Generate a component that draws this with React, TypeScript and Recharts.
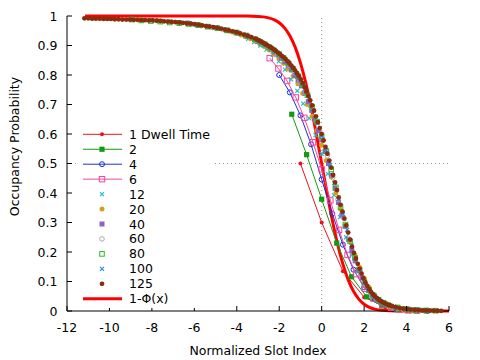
import React from "react";
import {
  ComposedChart,
  Scatter,
  Line,
  XAxis,
  YAxis,
  ReferenceLine,
  Legend,
} from "recharts";

type Pt = [number, number];

// x: normalized slot index, y: occupancy probability
const dwell1: Pt[] = [[-1, 0.5], [0, 0.3], [1, 0.135], [2, 0.047], [3, 0.013], [4, 0.003], [5, 0.0006]];

const dwell2: Pt[] = [
  [-1.41, 0.667], [-0.71, 0.53], [0, 0.379], [0.71, 0.23], [1.41, 0.116], [2.12, 0.048],
  [2.83, 0.017], [3.54, 0.005], [4.24, 0.0015], [4.95, 0.0004],
];

const dwell4: Pt[] = [
  [-2, 0.8], [-1.5, 0.741], [-1, 0.663], [-0.5, 0.565], [0, 0.446], [0.5, 0.33], [1, 0.225],
  [1.5, 0.14], [2, 0.08], [2.5, 0.042], [3, 0.02], [3.5, 0.009], [4, 0.004], [4.5, 0.0015], [5, 0.0006],
];

const dwell6: Pt[] = [
  [-2.45, 0.857], [-2.04, 0.822], [-1.63, 0.78], [-1.22, 0.724], [-0.82, 0.655], [-0.41, 0.572],
  [0, 0.48], [0.41, 0.375], [0.82, 0.275], [1.22, 0.19], [1.63, 0.125], [2.04, 0.075], [2.45, 0.042],
  [2.86, 0.022], [3.27, 0.011], [3.67, 0.005], [4.08, 0.002], [4.49, 0.001],
];

const dwell12: Pt[] = [
  [-3.46, 0.923], [-3.18, 0.912], [-2.89, 0.9], [-2.6, 0.886], [-2.31, 0.868], [-2.02, 0.846],
  [-1.73, 0.818], [-1.44, 0.785], [-1.15, 0.746], [-0.87, 0.703], [-0.58, 0.653], [-0.29, 0.596],
  [0, 0.533], [0.29, 0.465], [0.58, 0.393], [0.87, 0.318], [1.15, 0.25], [1.44, 0.19], [1.73, 0.135],
  [2.02, 0.093], [2.31, 0.062], [2.6, 0.04], [2.89, 0.026], [3.18, 0.016], [3.46, 0.01], [3.75, 0.006],
  [4.04, 0.0035], [4.33, 0.002],
];

const dwell20: Pt[] = [
  [-4.47, 0.952], [-4.25, 0.947], [-4.02, 0.942], [-3.8, 0.936], [-3.58, 0.93], [-3.35, 0.923],
  [-3.13, 0.915], [-2.91, 0.906], [-2.68, 0.896], [-2.46, 0.885], [-2.24, 0.872], [-2.01, 0.857],
  [-1.79, 0.84], [-1.57, 0.82], [-1.34, 0.797], [-1.12, 0.77], [-0.89, 0.738], [-0.67, 0.7],
  [-0.45, 0.66], [-0.22, 0.613], [0, 0.562], [0.22, 0.51], [0.45, 0.455], [0.67, 0.4], [0.89, 0.345],
  [1.12, 0.29], [1.34, 0.238], [1.57, 0.19], [1.79, 0.148], [2.01, 0.11], [2.24, 0.08], [2.46, 0.057],
  [2.68, 0.04], [2.91, 0.028], [3.13, 0.019], [3.35, 0.013], [3.58, 0.009], [3.8, 0.006], [4.02, 0.004],
  [4.25, 0.0027], [4.47, 0.0018],
];

const dwell40: Pt[] = [
  [-6.32, 0.976], [-5.85, 0.97], [-5.38, 0.964], [-4.9, 0.958], [-4.43, 0.95], [-3.95, 0.942],
  [-3.48, 0.931], [-3.16, 0.92], [-3.0, 0.914], [-2.85, 0.908], [-2.69, 0.902], [-2.53, 0.895],
  [-2.37, 0.887], [-2.21, 0.878], [-2.06, 0.868], [-1.9, 0.857], [-1.74, 0.845], [-1.58, 0.832],
  [-1.42, 0.817], [-1.26, 0.798], [-1.11, 0.783], [-0.95, 0.763], [-0.79, 0.738], [-0.63, 0.71],
  [-0.47, 0.68], [-0.32, 0.651], [-0.16, 0.611], [0, 0.58], [0.16, 0.541], [0.32, 0.5], [0.47, 0.46],
  [0.63, 0.416], [0.79, 0.368], [0.95, 0.325], [1.11, 0.287], [1.26, 0.243], [1.42, 0.205], [1.58, 0.17],
  [1.74, 0.14], [1.9, 0.113], [2.06, 0.088], [2.21, 0.07], [2.37, 0.054], [2.53, 0.043], [2.69, 0.034],
  [2.85, 0.028], [3.0, 0.022], [3.16, 0.018], [3.48, 0.012], [3.95, 0.007], [4.43, 0.004], [4.9, 0.002],
];

const dwell60: Pt[] = [
  [-7.75, 0.984], [-7.23, 0.98], [-6.71, 0.976], [-6.2, 0.972], [-5.68, 0.967], [-5.16, 0.961],
  [-4.65, 0.954], [-4.13, 0.945], [-3.61, 0.934], [-3.1, 0.919], [-2.84, 0.91], [-2.58, 0.898],
  [-2.32, 0.886], [-2.07, 0.871], [-1.81, 0.854], [-1.55, 0.833], [-1.29, 0.808], [-1.03, 0.777],
  [-0.77, 0.74], [-0.52, 0.694], [-0.26, 0.641], [0, 0.586], [0.26, 0.526], [0.52, 0.452], [0.77, 0.378],
  [1.03, 0.317], [1.29, 0.243], [1.55, 0.178], [1.81, 0.132], [2.07, 0.09], [2.32, 0.062], [2.58, 0.043],
  [2.84, 0.031], [3.1, 0.022], [3.61, 0.011], [4.13, 0.006], [4.65, 0.003], [5.16, 0.0015],
];

const dwell80: Pt[] = [
  [-8.94, 0.988], [-8.5, 0.985], [-8.05, 0.983], [-7.6, 0.981], [-7.16, 0.978], [-6.71, 0.976],
  [-6.26, 0.973], [-5.81, 0.969], [-5.37, 0.964], [-4.92, 0.959], [-4.47, 0.952], [-4.02, 0.944],
  [-3.58, 0.934], [-3.13, 0.921], [-2.91, 0.913], [-2.68, 0.904], [-2.46, 0.894], [-2.24, 0.883],
  [-2.01, 0.871], [-1.79, 0.857], [-1.57, 0.84], [-1.34, 0.82], [-1.12, 0.796], [-0.89, 0.766],
  [-0.67, 0.732], [-0.45, 0.692], [-0.22, 0.642], [0, 0.592], [0.22, 0.542], [0.45, 0.48], [0.67, 0.419],
  [0.89, 0.352], [1.12, 0.293], [1.34, 0.236], [1.57, 0.18], [1.79, 0.138], [2.01, 0.098], [2.24, 0.07],
  [2.46, 0.051], [2.68, 0.038], [2.91, 0.028], [3.13, 0.02], [3.58, 0.012], [4.02, 0.006], [4.47, 0.003],
  [4.92, 0.0017], [5.37, 0.001],
];

const dwell100: Pt[] = [
  [-10, 0.99], [-9, 0.988], [-8, 0.985], [-7, 0.98], [-6, 0.972], [-5, 0.961], [-4, 0.944], [-3.5, 0.932],
  [-3.0, 0.918], [-2.8, 0.91], [-2.6, 0.901], [-2.4, 0.892], [-2.2, 0.882], [-2.0, 0.871], [-1.8, 0.857],
  [-1.6, 0.843], [-1.4, 0.826], [-1.2, 0.806], [-1.0, 0.78], [-0.8, 0.752], [-0.6, 0.719], [-0.4, 0.68],
  [-0.2, 0.636], [0, 0.594], [0.2, 0.545], [0.4, 0.495], [0.6, 0.434], [0.8, 0.38], [1.0, 0.328],
  [1.2, 0.275], [1.4, 0.222], [1.6, 0.176], [1.8, 0.137], [2.0, 0.098], [2.2, 0.072], [2.4, 0.054],
  [2.6, 0.042], [2.8, 0.032], [3.0, 0.025], [3.4, 0.015], [3.8, 0.008], [4.2, 0.005], [4.6, 0.003],
  [5.0, 0.0016], [5.4, 0.0008],
];

const dwell125: Pt[] = [
  [-11.18, 0.992], [-11.0, 0.992], [-10.82, 0.991], [-10.64, 0.991], [-10.46, 0.991], [-10.28, 0.99],
  [-10.11, 0.99], [-9.93, 0.99], [-9.75, 0.989], [-9.57, 0.989], [-9.39, 0.988], [-9.21, 0.988],
  [-9.03, 0.988], [-8.85, 0.987], [-8.68, 0.987], [-8.5, 0.986], [-8.32, 0.986], [-8.14, 0.985],
  [-7.96, 0.985], [-7.78, 0.984], [-7.6, 0.983], [-7.42, 0.982], [-7.24, 0.981], [-7.07, 0.98],
  [-6.89, 0.979], [-6.71, 0.978], [-6.53, 0.977], [-6.35, 0.975], [-6.17, 0.974], [-5.99, 0.972],
  [-5.81, 0.97], [-5.63, 0.968], [-5.45, 0.966], [-5.28, 0.964], [-5.1, 0.962], [-4.92, 0.96],
  [-4.74, 0.957], [-4.56, 0.954], [-4.38, 0.951], [-4.2, 0.948], [-4.02, 0.945], [-3.84, 0.941],
  [-3.66, 0.937], [-3.49, 0.933], [-3.31, 0.928], [-3.13, 0.923],
  [-3.04, 0.92], [-2.95, 0.917], [-2.86, 0.913], [-2.77, 0.91], [-2.68, 0.906], [-2.59, 0.902],
  [-2.5, 0.898], [-2.41, 0.894], [-2.32, 0.89], [-2.24, 0.886], [-2.15, 0.881], [-2.06, 0.876],
  [-1.97, 0.871], [-1.88, 0.865], [-1.79, 0.86], [-1.7, 0.854], [-1.61, 0.847], [-1.52, 0.84],
  [-1.43, 0.832], [-1.34, 0.824], [-1.25, 0.815], [-1.16, 0.806], [-1.07, 0.796], [-0.98, 0.785],
  [-0.89, 0.772], [-0.8, 0.758], [-0.72, 0.744], [-0.63, 0.729], [-0.54, 0.714], [-0.45, 0.697],
  [-0.36, 0.679], [-0.27, 0.66], [-0.18, 0.64], [-0.09, 0.62], [0, 0.6], [0.09, 0.578], [0.18, 0.556],
  [0.27, 0.533], [0.36, 0.51], [0.45, 0.486], [0.54, 0.461], [0.63, 0.436], [0.72, 0.41], [0.8, 0.385],
  [0.89, 0.36], [0.98, 0.337], [1.07, 0.313], [1.16, 0.29], [1.25, 0.266], [1.34, 0.242], [1.43, 0.218],
  [1.52, 0.197], [1.61, 0.178], [1.7, 0.16], [1.79, 0.143], [1.88, 0.127], [1.97, 0.111], [2.06, 0.097],
  [2.15, 0.085], [2.24, 0.074], [2.32, 0.065], [2.41, 0.057], [2.5, 0.05], [2.59, 0.044], [2.68, 0.039],
  [2.77, 0.034], [2.86, 0.03], [2.95, 0.027], [3.04, 0.024], [3.13, 0.021], [3.22, 0.019], [3.31, 0.017],
  [3.49, 0.013], [3.67, 0.01], [3.85, 0.008], [4.03, 0.006], [4.2, 0.005], [4.38, 0.004], [4.56, 0.003],
  [4.74, 0.002], [4.92, 0.0017], [5.1, 0.0013], [5.28, 0.001], [5.46, 0.0007], [5.63, 0.0005],
];

// 1 - Phi(x), the normal reference curve
const normalTail: Pt[] = [
  [-11.15, 1], [-4, 1], [-3.5, 0.9998], [-3, 0.9987], [-2.75, 0.997], [-2.5, 0.9938], [-2.25, 0.9878],
  [-2, 0.9772], [-1.75, 0.9599], [-1.5, 0.9332], [-1.25, 0.8944], [-1, 0.8413], [-0.75, 0.7734],
  [-0.5, 0.6915], [-0.25, 0.5987], [0, 0.5], [0.25, 0.4013], [0.5, 0.3085], [0.75, 0.2266], [1, 0.1587],
  [1.25, 0.1056], [1.5, 0.0668], [1.75, 0.0401], [2, 0.0228], [2.25, 0.0122], [2.5, 0.0062],
  [2.75, 0.003], [3, 0.0013], [3.5, 0.0002], [4, 0], [6, 0],
];

const xTicks = [-12, -10, -8, -6, -4, -2, 0, 2, 4, 6];
const yTicks = [0, 0.1, 0.2, 0.3, 0.4, 0.5, 0.6, 0.7, 0.8, 0.9, 1];
const yTickLabels = ["0", "0.1", "0.2", "0.3", "0.4", "0.5", "0.6", "0.7", "0.8", "0.9", "1"];

const FONT = '"DejaVu Sans", Verdana, sans-serif';
const FS = 12.5;

type Kind = "dot" | "square" | "ocircle" | "osquare" | "cross";

const series: { name: string; data: Pt[]; color: string; kind: Kind; size: number; line?: boolean }[] = [
  { name: "1 Dwell Time", data: dwell1, color: "#e8141c", kind: "dot", size: 2, line: true },
  { name: "2", data: dwell2, color: "#139a13", kind: "square", size: 2.6, line: true },
  { name: "4", data: dwell4, color: "#1f2fd8", kind: "ocircle", size: 2.5, line: true },
  { name: "6", data: dwell6, color: "#f2469e", kind: "osquare", size: 2.7, line: true },
  { name: "12", data: dwell12, color: "#1fbfbf", kind: "cross", size: 2 },
  { name: "20", data: dwell20, color: "#d4a017", kind: "dot", size: 2.5 },
  { name: "40", data: dwell40, color: "#8e62c8", kind: "square", size: 2.5 },
  { name: "60", data: dwell60, color: "#a8a8a8", kind: "ocircle", size: 2.3 },
  { name: "80", data: dwell80, color: "#22c022", kind: "osquare", size: 2.3 },
  { name: "100", data: dwell100, color: "#2a8cf0", kind: "cross", size: 2 },
  { name: "125", data: dwell125, color: "#8b2c0a", kind: "dot", size: 2.4 },
];

const toPts = (arr: Pt[]) => arr.map(([x, y]) => ({ x, y }));

function Marker({ kind, cx, cy, color, size }: { kind: Kind; cx: number; cy: number; color: string; size: number }) {
  const s = size;
  switch (kind) {
    case "dot":
      return <circle cx={cx} cy={cy} r={s} fill={color} />;
    case "square":
      return <rect x={cx - s} y={cy - s} width={2 * s} height={2 * s} fill={color} />;
    case "ocircle":
      return <circle cx={cx} cy={cy} r={s} fill="none" stroke={color} strokeWidth={1} />;
    case "osquare":
      return <rect x={cx - s} y={cy - s} width={2 * s} height={2 * s} fill="none" stroke={color} strokeWidth={1} />;
    default:
      return (
        <path
          d={`M${cx - s},${cy - s}L${cx + s},${cy + s}M${cx - s},${cy + s}L${cx + s},${cy - s}`}
          stroke={color}
          strokeWidth={1.2}
        />
      );
  }
}

const BottomTick = ({ x, y, payload }: any) => (
  <g>
    <line x1={x} x2={x} y1={y} y2={y - 5} stroke="#000" />
    <text x={x} y={y + 21} textAnchor="middle" fontSize={FS} fontFamily={FONT} fill="#000">
      {payload.value}
    </text>
  </g>
);

const LeftTick = ({ x, y, payload, index }: any) => (
  <g>
    <line x1={x} x2={x + 5} y1={y} y2={y} stroke="#000" />
    <text x={x - 9.5} y={y + 4.5} textAnchor="end" fontSize={FS} fontFamily={FONT} fill="#000">
      {yTickLabels[index] ?? payload.value}
    </text>
  </g>
);

const TopTick = ({ x, y }: any) => <line x1={x} x2={x} y1={y} y2={y + 5} stroke="#000" />;
const RightTick = ({ x, y }: any) => <line x1={x} x2={x - 5} y1={y} y2={y} stroke="#000" />;

const renderLegend = () => (
  <svg width={138} height={182} style={{ display: "block", background: "#fff" }}>
    {series.map((s, i) => {
      const y = 8.3 + i * 14.95;
      return (
        <g key={s.name}>
          {s.line && <line x1={7} x2={46} y1={y} y2={y} stroke={s.color} strokeWidth={1} />}
          <Marker kind={s.kind} cx={26} cy={y} color={s.color} size={s.size} />
          <text x={53} y={y + 4.5} fontSize={FS} fontFamily={FONT} fill="#000">
            {s.name}
          </text>
        </g>
      );
    })}
    <line x1={7} x2={46} y1={8.3 + 11 * 14.95} y2={8.3 + 11 * 14.95} stroke="#ff0000" strokeWidth={3} />
    <text x={53} y={8.3 + 11 * 14.95 + 4.5} fontSize={FS} fontFamily={FONT} fill="#000">
      1-Φ(x)
    </text>
  </svg>
);

export default function App() {
  return (
    <div style={{ position: "absolute", left: 0, top: 0, width: 480, height: 360, background: "#fff" }}>
      <ComposedChart width={480} height={360} margin={{ top: 16, right: 31, bottom: 0, left: 0 }}>
        <XAxis
          xAxisId={0}
          type="number"
          dataKey="x"
          domain={[-12, 6]}
          ticks={xTicks}
          interval={0}
          height={49}
          tickLine={false}
          tickSize={0}
          tickMargin={0}
          tick={<BottomTick />}
          axisLine={{ stroke: "#000" }}
          label={({ viewBox }: any) => (
            <text
              x={viewBox.x + viewBox.width / 2}
              y={viewBox.y + 43.5}
              textAnchor="middle"
              fontSize={FS}
              fontFamily={FONT}
              fill="#000"
            >
              Normalized Slot Index
            </text>
          )}
        />
        <XAxis
          xAxisId="top"
          orientation="top"
          type="number"
          domain={[-12, 6]}
          ticks={xTicks}
          interval={0}
          height={0}
          tickLine={false}
          tickSize={0}
          tickMargin={0}
          tick={<TopTick />}
          axisLine={{ stroke: "#000" }}
        />
        <YAxis
          yAxisId={0}
          type="number"
          dataKey="y"
          domain={[0, 1]}
          ticks={yTicks}
          interval={0}
          width={67}
          tickLine={false}
          tickSize={0}
          tickMargin={0}
          tick={<LeftTick />}
          axisLine={{ stroke: "#000" }}
          label={({ viewBox }: any) => {
            const cx = viewBox.x + 19;
            const cy = viewBox.y + viewBox.height / 2 - 17;
            return (
              <text
                x={cx}
                y={cy}
                transform={`rotate(-90, ${cx}, ${cy})`}
                textAnchor="middle"
                fontSize={FS}
                fontFamily={FONT}
                fill="#000"
              >
                Occupancy Probability
              </text>
            );
          }}
        />
        <YAxis
          yAxisId="right"
          orientation="right"
          type="number"
          domain={[0, 1]}
          ticks={yTicks}
          interval={0}
          width={0}
          tickLine={false}
          tickSize={0}
          tickMargin={0}
          tick={<RightTick />}
          axisLine={{ stroke: "#000" }}
        />
        <ReferenceLine x={0} stroke="#9a9a9a" strokeDasharray="1 3" />
        <ReferenceLine y={0.5} stroke="#9a9a9a" strokeDasharray="1 3" />
        {series.map((s) => (
          <Scatter
            key={s.name}
            name={s.name}
            data={toPts(s.data)}
            fill={s.color}
            line={s.line ? { stroke: s.color, strokeWidth: 1 } : false}
            lineType="joint"
            isAnimationActive={false}
            shape={(p: any) => <Marker kind={s.kind} cx={p.cx} cy={p.cy} color={s.color} size={s.size} />}
          />
        ))}
        <Line
          data={toPts(normalTail)}
          dataKey="y"
          type="monotone"
          stroke="#ff0000"
          strokeWidth={3}
          dot={false}
          activeDot={false}
          isAnimationActive={false}
        />
        <Legend
          layout="vertical"
          align="center"
          verticalAlign="middle"
          width={138}
          height={182}
          wrapperStyle={{ left: 76, top: 126, width: 138, height: 182 }}
          content={renderLegend}
        />
      </ComposedChart>
    </div>
  );
}
